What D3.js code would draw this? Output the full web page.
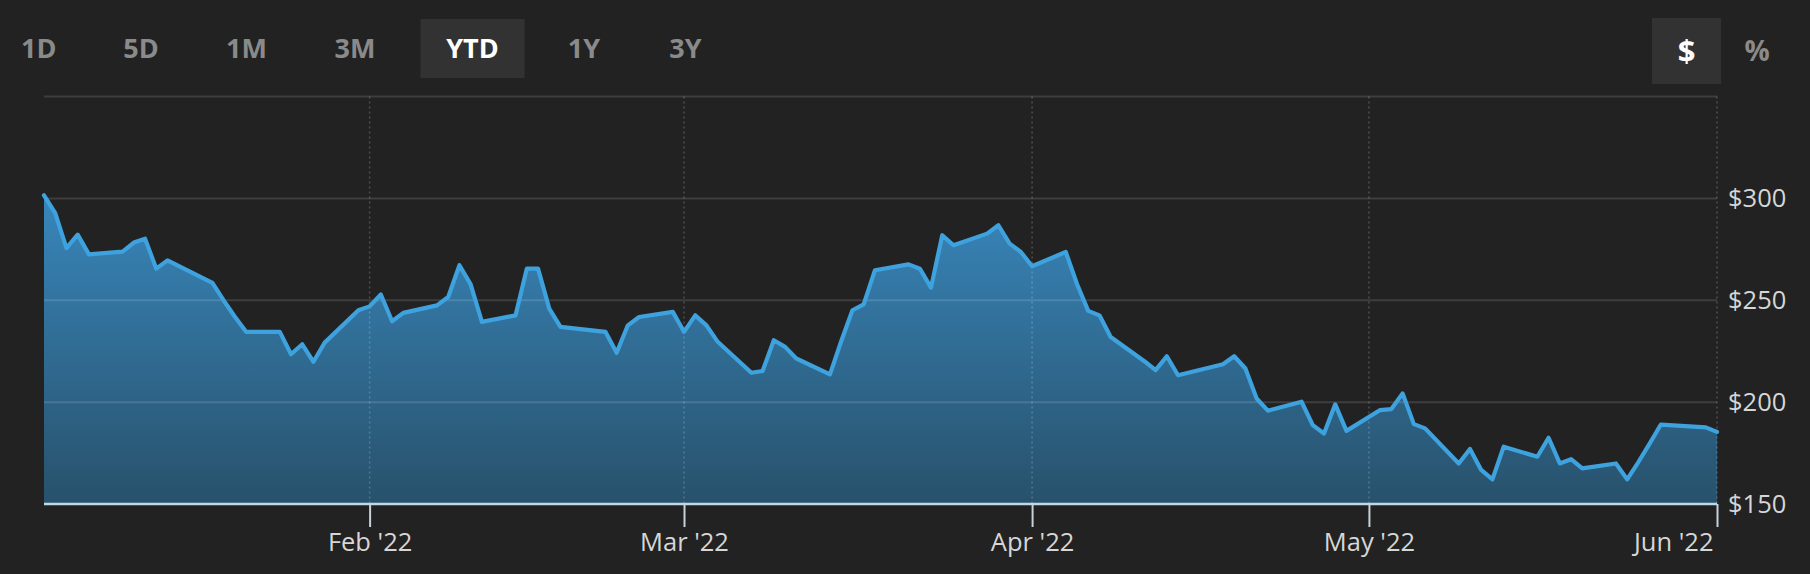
<!DOCTYPE html>
<html>
<head>
<meta charset="utf-8">
<script src="https://cdn.jsdelivr.net/npm/d3@7"></script>
<style>
  html, body { margin: 0; padding: 0; background: #222222; }
  svg { display: block; }
</style>
</head>
<body>
<svg id="chart" width="1810" height="574"></svg>
<script>
// ---------- DATA ----------
const rangeButtons = ["1D", "5D", "1M", "3M", "YTD", "1Y", "3Y"];
const activeRange = "YTD";
const unitButtons = ["$", "%"];
const activeUnit = "$";

const tradingDays = [
  "2022-01-03","2022-01-04","2022-01-05","2022-01-06","2022-01-07","2022-01-10","2022-01-11","2022-01-12","2022-01-13","2022-01-14",
  "2022-01-18","2022-01-19","2022-01-20","2022-01-21","2022-01-24","2022-01-25","2022-01-26","2022-01-27","2022-01-28","2022-01-31",
  "2022-02-01","2022-02-02","2022-02-03","2022-02-04","2022-02-07","2022-02-08","2022-02-09","2022-02-10","2022-02-11","2022-02-14",
  "2022-02-15","2022-02-16","2022-02-17","2022-02-18","2022-02-22","2022-02-23","2022-02-24","2022-02-25","2022-02-28",
  "2022-03-01","2022-03-02","2022-03-03","2022-03-04","2022-03-07","2022-03-08","2022-03-09","2022-03-10","2022-03-11","2022-03-14",
  "2022-03-15","2022-03-16","2022-03-17","2022-03-18","2022-03-21","2022-03-22","2022-03-23","2022-03-24","2022-03-25","2022-03-28",
  "2022-03-29","2022-03-30","2022-03-31",
  "2022-04-01","2022-04-04","2022-04-05","2022-04-06","2022-04-07","2022-04-08","2022-04-11","2022-04-12","2022-04-13","2022-04-14",
  "2022-04-18","2022-04-19","2022-04-20","2022-04-21","2022-04-22","2022-04-25","2022-04-26","2022-04-27","2022-04-28","2022-04-29",
  "2022-05-02","2022-05-03","2022-05-04","2022-05-05","2022-05-06","2022-05-09","2022-05-10","2022-05-11","2022-05-12","2022-05-13",
  "2022-05-16","2022-05-17","2022-05-18","2022-05-19","2022-05-20","2022-05-23","2022-05-24","2022-05-25","2022-05-26","2022-05-27",
  "2022-05-31","2022-06-01"
];

const closePrices = [
  301.5, 292.8, 275.6, 282.2, 272.5, 273.9, 278.3, 280.2, 265.5, 269.6,
  258.5, 249.9, 241.9, 234.5, 234.5, 223.5, 228.4, 219.8, 229.2, 245.1,
  247.0, 252.8, 239.7, 243.8, 247.5, 251.6, 267.2, 257.8, 239.4, 242.6,
  265.5, 265.5, 245.9, 236.9, 234.5, 224.2, 237.7, 241.8, 244.3,
  234.5, 242.6, 237.7, 229.6, 214.4, 215.3, 230.4, 227.1, 221.4, 213.6,
  229.9, 245.1, 248.0, 264.7, 267.6, 265.5, 256.2, 281.9, 277.0, 282.7,
  286.8, 277.8, 273.7,
  266.7, 273.7, 258.0, 244.8, 242.6, 232.0, 220.1, 215.7, 222.5, 213.2,
  218.6, 222.5, 216.5, 201.8, 195.8, 200.2, 188.7, 184.6, 198.9, 185.9,
  196.1, 196.6, 204.3, 189.2, 187.1, 169.9, 177.0, 166.7, 162.1, 178.1,
  173.2, 182.5, 169.9, 172.0, 167.5, 169.9, 162.1, 170.6, 179.6, 189.0,
  187.6, 185.4
];

const yTickValues = [150, 200, 250, 300, 350];
const yLabelValues = [150, 200, 250, 300];
const monthTicks = ["2022-02-01", "2022-03-01", "2022-04-01", "2022-05-01", "2022-06-01"];
const xDomain = ["2022-01-03", "2022-06-01"];
const yDomain = [150, 350];

// ---------- LAYOUT (not data) ----------
const buttonCenters = [38.7, 141, 246.5, 355, 472.5, 584, 685.5];

// ---------- SETUP ----------
const parse = d3.timeParse("%Y-%m-%d");
const data = tradingDays.map((d, i) => ({ date: parse(d), value: closePrices[i] }));

const svg = d3.select("#chart");
const W = 1810, H = 574;
const plot = { left: 44, right: 1717, top: 96.5, bottom: 504 };

const x = d3.scaleTime().domain(xDomain.map(parse)).range([plot.left, plot.right]);
const y = d3.scaleLinear().domain(yDomain).range([plot.bottom, plot.top]);

svg.append("rect").attr("width", W).attr("height", H).attr("fill", "#222222");

// gradient
const defs = svg.append("defs");
const grad = defs.append("linearGradient")
  .attr("id", "areaGrad").attr("gradientUnits", "userSpaceOnUse")
  .attr("x1", 0).attr("x2", 0).attr("y1", y(300)).attr("y2", y(150));
grad.append("stop").attr("offset", "0%").attr("stop-color", "#3886bb");
grad.append("stop").attr("offset", "100%").attr("stop-color", "#28516b");

// area + line
const area = d3.area().x(d => x(d.date)).y0(y(150)).y1(d => y(d.value));
const line = d3.line().x(d => x(d.date)).y(d => y(d.value));

svg.append("path").datum(data).attr("d", area).attr("fill", "url(#areaGrad)");

// horizontal grid (on top, translucent)
svg.append("g").selectAll("line").data(yTickValues.filter(v => v !== 150)).join("line")
  .attr("x1", plot.left).attr("x2", plot.right)
  .attr("y1", d => y(d)).attr("y2", d => y(d))
  .attr("stroke", "rgba(255,255,255,0.13)").attr("stroke-width", 2);

// vertical dotted month grid
svg.append("g").selectAll("line").data(monthTicks.map(parse)).join("line")
  .attr("x1", d => x(d)).attr("x2", d => x(d))
  .attr("y1", plot.top).attr("y2", plot.bottom)
  .attr("stroke", "rgba(255,255,255,0.2)").attr("stroke-width", 1.5)
  .attr("stroke-dasharray", "2,3");

svg.append("path").datum(data).attr("d", line)
  .attr("fill", "none").attr("stroke", "#3ea2de").attr("stroke-width", 4.2)
  .attr("stroke-linejoin", "round").attr("stroke-linecap", "round");

// x axis
const xAxis = d3.axisBottom(x)
  .tickValues(monthTicks.map(parse))
  .tickFormat(d3.timeFormat("%b '%y"))
  .tickSize(23).tickPadding(6);
const gx = svg.append("g").attr("transform", `translate(0,${plot.bottom})`).call(xAxis);
gx.select(".domain").remove();
gx.selectAll(".tick line").attr("stroke", "#c6d2da").attr("stroke-width", 2);
gx.selectAll(".tick text")
  .attr("fill", "#d6d6d6")
  .attr("font-family", "'Open Sans', sans-serif")
  .attr("font-size", "25.5px");
const lastTick = gx.selectAll(".tick").filter((d, i, n) => i === n.length - 1);
lastTick.select("text").attr("text-anchor", "end").attr("x", -4);

svg.append("line")
  .attr("x1", plot.left).attr("x2", plot.right)
  .attr("y1", plot.bottom).attr("y2", plot.bottom)
  .attr("stroke", "#bfd8e8").attr("stroke-width", 2.5);

// y axis
const yAxis = d3.axisRight(y)
  .tickValues(yLabelValues)
  .tickFormat(d => "$" + d)
  .tickSize(0).tickPadding(11);
const gy = svg.append("g").attr("transform", `translate(${plot.right},0)`).call(yAxis);
gy.select(".domain").remove();
gy.selectAll(".tick text")
  .attr("fill", "#d6d6d6")
  .attr("font-family", "'Open Sans', sans-serif")
  .attr("font-size", "25.5px");

// ---------- RANGE BUTTONS ----------
const btnG = svg.append("g");
const activeIdx = rangeButtons.indexOf(activeRange);
btnG.append("rect")
  .attr("x", buttonCenters[activeIdx] - 52).attr("y", 19)
  .attr("width", 104).attr("height", 59)
  .attr("fill", "#323232");
btnG.selectAll("text").data(rangeButtons).join("text")
  .attr("x", (d, i) => buttonCenters[i]).attr("y", 58)
  .attr("text-anchor", "middle")
  .attr("font-family", "'Open Sans', sans-serif")
  .attr("font-weight", 700)
  .attr("font-size", "27px")
  .attr("fill", d => d === activeRange ? "#ffffff" : "#8a8a8a")
  .text(d => d);

// unit buttons
const unitCenters = d3.scalePoint().domain(unitButtons).range([1686.5, 1757]);
svg.append("rect").attr("x", 1652).attr("y", 18).attr("width", 69).attr("height", 66)
  .attr("fill", "#323232");
svg.append("g").selectAll("text").data(unitButtons).join("text")
  .attr("x", d => unitCenters(d)).attr("y", d => d === "$" ? 62 : 61)
  .attr("text-anchor", "middle")
  .attr("font-family", "'Open Sans', sans-serif")
  .attr("font-weight", 700)
  .attr("font-size", d => d === "$" ? "31px" : "28px")
  .attr("fill", d => d === activeUnit ? "#ffffff" : "#8a8a8a")
  .text(d => d);
</script>
</body>
</html>
